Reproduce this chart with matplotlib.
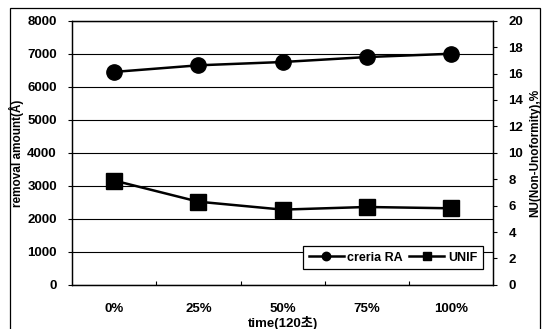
import matplotlib.pyplot as plt
from matplotlib.patches import Rectangle

# datos
categorias = ["0%", "25%", "50%", "75%", "100%"]
removal_ra = [6450, 6650, 6750, 6900, 7000]     # eje izquierdo (Å)
unif = [7.9, 6.3, 5.7, 5.9, 5.8]                # eje derecho (%)

plt.rcParams['font.family'] = ['Liberation Sans', 'Noto Sans CJK KR', 'DejaVu Sans']
plt.rcParams['font.weight'] = 'bold'

fig = plt.figure(figsize=(5.42, 3.29), dpi=100)
ax = fig.add_axes([0.133, 0.134, 0.777, 0.803])
ax2 = ax.twinx()

x = list(range(len(categorias)))

l1, = ax.plot(x, removal_ra, color="black", linewidth=1.8, marker="o", markersize=11, label="creria RA")
l2, = ax2.plot(x, unif, color="black", linewidth=1.8, marker="s", markersize=11, label="UNIF")

ax.set_xlim(-0.5, len(categorias) - 0.5)
ax.set_ylim(0, 8000)
ax.set_yticks(range(0, 8001, 1000))
ax2.set_ylim(0, 20)
ax2.set_yticks(range(0, 21, 2))

ax.yaxis.grid(True, color="black", linewidth=0.8)
ax.set_axisbelow(True)

# ticks del eje x entre categorias (estilo Excel)
ax.set_xticks([i + 0.5 for i in x[:-1]])
ax.set_xticklabels([])
ax.set_xticks(x, minor=True)
ax.set_xticklabels(categorias, minor=True, fontsize=9.5, fontweight="bold")
ax.tick_params(axis="x", which="major", direction="in", length=3)
ax.tick_params(axis="x", which="minor", length=0, pad=13)

ax.tick_params(axis="y", labelsize=9.5, length=3, pad=8)
ax2.tick_params(axis="y", labelsize=9.5, length=3, pad=8)
for lab in ax.get_yticklabels() + ax2.get_yticklabels():
    lab.set_fontweight("bold")

ax.set_ylabel("removal amount(Å)", fontsize=8.5, fontweight="bold", labelpad=2)
ax2.set_ylabel("NU(Non-Unoformity),%", fontsize=8.5, fontweight="bold", rotation=90, labelpad=4)
ax.set_xlabel("time(120초)", fontsize=9.5, fontweight="bold")
ax.xaxis.set_label_coords(0.5, -0.118)

for a in (ax, ax2):
    for s in a.spines.values():
        s.set_linewidth(0.9)

leg = ax.legend(handles=[l1, l2], loc="lower right", ncol=2, fontsize=9,
                frameon=True, fancybox=False, edgecolor="black", framealpha=1,
                borderpad=0.45, handlelength=2.8, handletextpad=0.3, columnspacing=0.5,
                bbox_to_anchor=(0.99, 0.035), markerscale=0.55)
leg.get_frame().set_linewidth(0.9)
for t in leg.get_texts():
    t.set_fontweight("bold")

# marco exterior del grafico
fig.patches.append(Rectangle((10 / 542, -0.01), 530 / 542, 1 - 8 / 329 + 0.01,
                             transform=fig.transFigure, fill=False,
                             edgecolor="black", linewidth=0.9))

fig.savefig("out.png", dpi=100)
